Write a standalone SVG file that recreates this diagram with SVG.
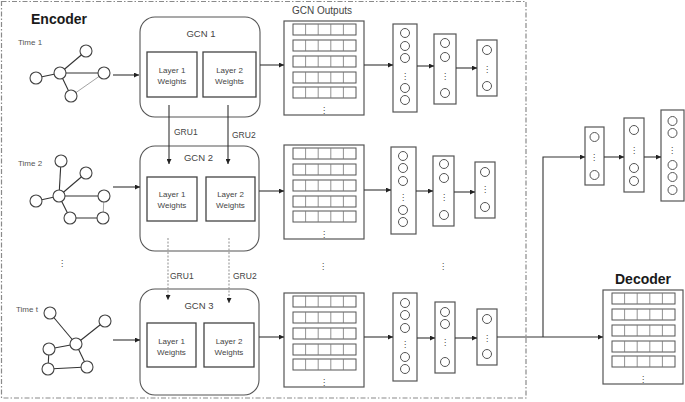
<svg xmlns="http://www.w3.org/2000/svg" xmlns:xlink="http://www.w3.org/1999/xlink" width="685" height="402" viewBox="0 0 685 402">
<style>
.bg{fill:#ffffff}
.border{fill:none;stroke:#8a8a8a;stroke-width:1.2;stroke-dasharray:5 2 1.5 2}
.title{font-family:"Liberation Sans",Arial,sans-serif;font-weight:bold;font-size:14px;fill:#1a1a1a}
.time{font-family:"Liberation Sans",Arial,sans-serif;font-size:8px;fill:#555}
.gcn{font-family:"Liberation Sans",Arial,sans-serif;font-size:9.5px;fill:#444;text-anchor:middle}
.lbl{font-family:"Liberation Sans",Arial,sans-serif;font-size:8px;fill:#444;text-anchor:middle}
.gru{font-family:"Liberation Sans",Arial,sans-serif;font-size:8.5px;fill:#444}
.dots{font-family:"DejaVu Sans",sans-serif;font-size:8.5px;fill:#444;text-anchor:middle}
.edge{stroke:#333;stroke-width:1.1;fill:none}
.edge2{stroke:#999;stroke-width:0.9;fill:none}
.node{fill:#fff;stroke:#444;stroke-width:1.1}
.gbox{fill:#fff;stroke:#555;stroke-width:1.1}
.lbox{fill:#fff;stroke:#444;stroke-width:1.3}
.tbox{fill:#fff;stroke:#555;stroke-width:1.2}
.row{fill:#fff;stroke:#555;stroke-width:1}
.cell{stroke:#777;stroke-width:0.8}
.col{fill:#fff;stroke:#555;stroke-width:1.2}
.unit{fill:#fff;stroke:#555;stroke-width:1}
.arr{stroke:#333;stroke-width:1.1;fill:none;marker-end:url(#ah)}
.arrd{stroke:#999;stroke-width:1.1;fill:none;stroke-dasharray:2 1.5;marker-end:url(#ah)}
</style>
<defs>
<marker id="ah" viewBox="0 0 10 10" refX="10" refY="5" markerWidth="5" markerHeight="5" markerUnits="userSpaceOnUse" orient="auto">
<path d="M0,0 L10,5 L0,10 z" fill="#222"/>
</marker>
<g id="trow">
<rect class="row" x="0" y="0" width="63" height="11"/>
<line class="cell" x1="12.6" y1="0" x2="12.6" y2="11"/>
<line class="cell" x1="25.2" y1="0" x2="25.2" y2="11"/>
<line class="cell" x1="37.8" y1="0" x2="37.8" y2="11"/>
<line class="cell" x1="50.4" y1="0" x2="50.4" y2="11"/>
</g>
<g id="table">
<rect class="tbox" x="0" y="0" width="80" height="94"/>
<use xlink:href="#trow" x="9" y="3"/>
<use xlink:href="#trow" x="9" y="19"/>
<use xlink:href="#trow" x="9" y="35"/>
<use xlink:href="#trow" x="9" y="51"/>
<use xlink:href="#trow" x="9" y="66"/>
<text class="dots" x="40" y="92">⋮</text>
</g>
</defs>
<rect class="bg" x="0" y="0" width="685" height="402"/>
<rect class="border" x="1.5" y="1.5" width="524.5" height="396.5"/>
<text class="title" x="31" y="24">Encoder</text>
<text class="title" x="615" y="284">Decoder</text>

<g id="graph1">
<text class="time" x="18" y="45">Time 1</text>
<line class="edge" x1="36" y1="78" x2="60" y2="73"/>
<line class="edge" x1="60" y1="73" x2="86" y2="51"/>
<line class="edge" x1="60" y1="73" x2="104" y2="73"/>
<line class="edge" x1="60" y1="73" x2="71" y2="96"/>
<line class="edge2" x1="71" y1="96" x2="104" y2="73"/>
<circle class="node" cx="36" cy="78" r="6"/>
<circle class="node" cx="60" cy="73" r="6"/>
<circle class="node" cx="86" cy="51" r="6"/>
<circle class="node" cx="104" cy="73" r="6"/>
<circle class="node" cx="71" cy="96" r="6"/>
</g>

<g id="graph2">
<text class="time" x="18" y="166">Time 2</text>
<line class="edge" x1="61" y1="161" x2="59" y2="196"/>
<line class="edge" x1="86" y1="173" x2="59" y2="196"/>
<line class="edge" x1="36" y1="201" x2="59" y2="196"/>
<line class="edge" x1="59" y1="196" x2="104" y2="196"/>
<line class="edge" x1="59" y1="196" x2="70" y2="218"/>
<line class="edge" x1="70" y1="218" x2="103" y2="218"/>
<line class="edge2" x1="104" y1="196" x2="103" y2="218"/>
<circle class="node" cx="61" cy="161" r="6"/>
<circle class="node" cx="86" cy="173" r="6"/>
<circle class="node" cx="59" cy="196" r="6"/>
<circle class="node" cx="36" cy="201" r="6"/>
<circle class="node" cx="104" cy="196" r="6"/>
<circle class="node" cx="70" cy="218" r="6"/>
<circle class="node" cx="103" cy="218" r="6"/>
</g>

<text class="dots" x="62" y="266">⋮</text>

<g id="graph3">
<text class="time" x="16" y="312">Time t</text>
<line class="edge" x1="50" y1="313" x2="76" y2="344"/>
<line class="edge" x1="105" y1="321" x2="76" y2="344"/>
<line class="edge" x1="49" y1="349" x2="76" y2="344"/>
<line class="edge" x1="49" y1="349" x2="48" y2="369"/>
<line class="edge" x1="76" y1="344" x2="87" y2="367"/>
<line class="edge" x1="48" y1="369" x2="87" y2="367"/>
<circle class="node" cx="50" cy="313" r="6"/>
<circle class="node" cx="105" cy="321" r="6"/>
<circle class="node" cx="76" cy="344" r="6"/>
<circle class="node" cx="49" cy="349" r="6"/>
<circle class="node" cx="48" cy="369" r="6"/>
<circle class="node" cx="87" cy="367" r="6"/>
</g>

<g id="gcn1">
<rect class="gbox" x="140" y="17" width="120" height="100" rx="15"/>
<text class="gcn" x="201" y="37">GCN 1</text>
<rect class="lbox" x="147" y="52" width="50" height="45"/>
<text class="lbl" x="172" y="73">Layer 1</text>
<text class="lbl" x="172" y="84">Weights</text>
<rect class="lbox" x="203" y="52" width="53" height="45"/>
<text class="lbl" x="229.5" y="73">Layer 2</text>
<text class="lbl" x="229.5" y="84">Weights</text>
</g>

<g id="gcn2">
<rect class="gbox" x="140" y="146" width="119" height="105" rx="15"/>
<text class="gcn" x="198.5" y="161">GCN 2</text>
<rect class="lbox" x="147" y="177" width="50" height="44"/>
<text class="lbl" x="172" y="197">Layer 1</text>
<text class="lbl" x="172" y="208">Weights</text>
<rect class="lbox" x="206" y="177" width="49" height="44"/>
<text class="lbl" x="230.5" y="197">Layer 2</text>
<text class="lbl" x="230.5" y="208">Weights</text>
</g>

<g id="gcn3">
<rect class="gbox" x="140" y="289" width="119" height="106" rx="15"/>
<text class="gcn" x="199" y="309">GCN 3</text>
<rect class="lbox" x="147" y="323" width="49" height="44"/>
<text class="lbl" x="171.5" y="344">Layer 1</text>
<text class="lbl" x="171.5" y="355">Weights</text>
<rect class="lbox" x="204" y="323" width="50" height="44"/>
<text class="lbl" x="229" y="344">Layer 2</text>
<text class="lbl" x="229" y="355">Weights</text>
</g>

<g id="outputs1">
<text class="gcn" x="322" y="14" style="font-size:10px">GCN Outputs</text>
<use xlink:href="#table" x="284" y="21"/>
</g>
<g id="outputs2"><use xlink:href="#table" x="284" y="145"/></g>
<g id="outputs3"><use xlink:href="#table" x="284" y="293"/></g>

<g id="decoder">
<use xlink:href="#table" x="603" y="290"/>
</g>

<g id="vec1a">
<rect class="col" x="393" y="24" width="24" height="88"/>
<circle class="unit" cx="405" cy="33" r="4.5"/>
<circle class="unit" cx="405" cy="46" r="4.5"/>
<circle class="unit" cx="405" cy="58" r="4.5"/>
<text class="dots" x="405" y="79">⋮</text>
<circle class="unit" cx="405" cy="88" r="4.5"/>
<circle class="unit" cx="405" cy="100" r="4.5"/>
</g>
<g id="vec1b">
<rect class="col" x="434" y="34" width="22" height="70"/>
<circle class="unit" cx="445" cy="43" r="4.5"/>
<circle class="unit" cx="445" cy="57" r="4.5"/>
<text class="dots" x="445" y="79">⋮</text>
<circle class="unit" cx="445" cy="93" r="4.5"/>
</g>
<g id="vec1c">
<rect class="col" x="477" y="40" width="20" height="56"/>
<circle class="unit" cx="487" cy="50" r="4.5"/>
<text class="dots" x="487" y="72">⋮</text>
<circle class="unit" cx="487" cy="86" r="4.5"/>
</g>

<g id="vec2a">
<rect class="col" x="391" y="147" width="25" height="87"/>
<circle class="unit" cx="403" cy="156" r="4.5"/>
<circle class="unit" cx="403" cy="168" r="4.5"/>
<circle class="unit" cx="403" cy="181" r="4.5"/>
<text class="dots" x="403" y="200">⋮</text>
<circle class="unit" cx="403" cy="210" r="4.5"/>
<circle class="unit" cx="403" cy="222" r="4.5"/>
</g>
<g id="vec2b">
<rect class="col" x="433" y="156" width="21" height="70"/>
<circle class="unit" cx="444" cy="164" r="4.5"/>
<circle class="unit" cx="444" cy="178" r="4.5"/>
<text class="dots" x="444" y="200">⋮</text>
<circle class="unit" cx="444" cy="215" r="4.5"/>
</g>
<g id="vec2c">
<rect class="col" x="475" y="162" width="20" height="56"/>
<circle class="unit" cx="485" cy="172" r="4.5"/>
<text class="dots" x="485" y="192">⋮</text>
<circle class="unit" cx="485" cy="207" r="4.5"/>
</g>

<text class="dots" x="323" y="269">⋮</text>
<text class="dots" x="443" y="269">⋮</text>

<g id="vec3a">
<rect class="col" x="393" y="293" width="24" height="88"/>
<circle class="unit" cx="405" cy="303" r="4.5"/>
<circle class="unit" cx="405" cy="315" r="4.5"/>
<circle class="unit" cx="405" cy="328" r="4.5"/>
<text class="dots" x="405" y="347">⋮</text>
<circle class="unit" cx="405" cy="357" r="4.5"/>
<circle class="unit" cx="405" cy="369" r="4.5"/>
</g>
<g id="vec3b">
<rect class="col" x="435" y="302" width="20" height="71"/>
<circle class="unit" cx="445" cy="312" r="4.5"/>
<circle class="unit" cx="445" cy="324" r="4.5"/>
<text class="dots" x="445" y="345">⋮</text>
<circle class="unit" cx="445" cy="362" r="4.5"/>
</g>
<g id="vec3c">
<rect class="col" x="477" y="309" width="20" height="56"/>
<circle class="unit" cx="487" cy="319" r="4.5"/>
<text class="dots" x="487" y="341">⋮</text>
<circle class="unit" cx="487" cy="354" r="4.5"/>
</g>

<g id="decvecA">
<rect class="col" x="585" y="127" width="19" height="58"/>
<circle class="unit" cx="594.5" cy="137" r="4.5"/>
<text class="dots" x="594" y="160">⋮</text>
<circle class="unit" cx="594.5" cy="175" r="4.5"/>
</g>
<g id="decvecB">
<rect class="col" x="624" y="118" width="20" height="74"/>
<circle class="unit" cx="634" cy="130" r="4.5"/>
<text class="dots" x="634" y="153">⋮</text>
<circle class="unit" cx="634" cy="168" r="4.5"/>
<circle class="unit" cx="634" cy="181" r="4.5"/>
</g>
<g id="decvecC">
<rect class="col" x="661" y="110" width="23" height="91"/>
<circle class="unit" cx="672.5" cy="121" r="4.5"/>
<circle class="unit" cx="672.5" cy="133" r="4.5"/>
<text class="dots" x="672" y="153">⋮</text>
<circle class="unit" cx="672.5" cy="165" r="4.5"/>
<circle class="unit" cx="672.5" cy="177" r="4.5"/>
<circle class="unit" cx="672.5" cy="190" r="4.5"/>
</g>

<g id="connectors">
<line class="arr" x1="113" y1="75" x2="139" y2="75"/>
<line class="arr" x1="260" y1="65" x2="284" y2="65"/>
<line class="arr" x1="364" y1="65" x2="393" y2="65"/>
<line class="arr" x1="417" y1="66" x2="434" y2="66"/>
<line class="arr" x1="456" y1="68" x2="477" y2="68"/>

<line class="arr" x1="113" y1="187" x2="140" y2="187"/>
<line class="arr" x1="259" y1="191" x2="284" y2="191"/>
<line class="arr" x1="364" y1="190" x2="391" y2="190"/>
<line class="arr" x1="416" y1="191" x2="433" y2="191"/>
<line class="arr" x1="454" y1="192" x2="475" y2="192"/>

<line class="arr" x1="113" y1="340" x2="140" y2="340"/>
<line class="arr" x1="259" y1="337" x2="284" y2="337"/>
<line class="arr" x1="364" y1="337" x2="393" y2="337"/>
<line class="arr" x1="417" y1="338" x2="435" y2="338"/>
<line class="arr" x1="455" y1="338" x2="477" y2="338"/>
<line class="arr" x1="497" y1="337" x2="603" y2="337"/>
<polyline class="arr" points="543,337 543,170 543,157 585,157"/>
<line class="arr" x1="604" y1="157" x2="624" y2="157"/>
<line class="arr" x1="644" y1="157" x2="661" y2="157"/>

<line class="arr" x1="169" y1="105" x2="169" y2="164"/>
<line class="arr" x1="228" y1="105" x2="228" y2="164"/>
<line class="arrd" x1="168" y1="238" x2="168" y2="300"/>
<line class="arrd" x1="229" y1="238" x2="229" y2="303"/>
</g>
<text class="gru" x="174" y="135">GRU1</text>
<text class="gru" x="232" y="138">GRU2</text>
<text class="gru" x="170" y="279">GRU1</text>
<text class="gru" x="233" y="279">GRU2</text>
</svg>
